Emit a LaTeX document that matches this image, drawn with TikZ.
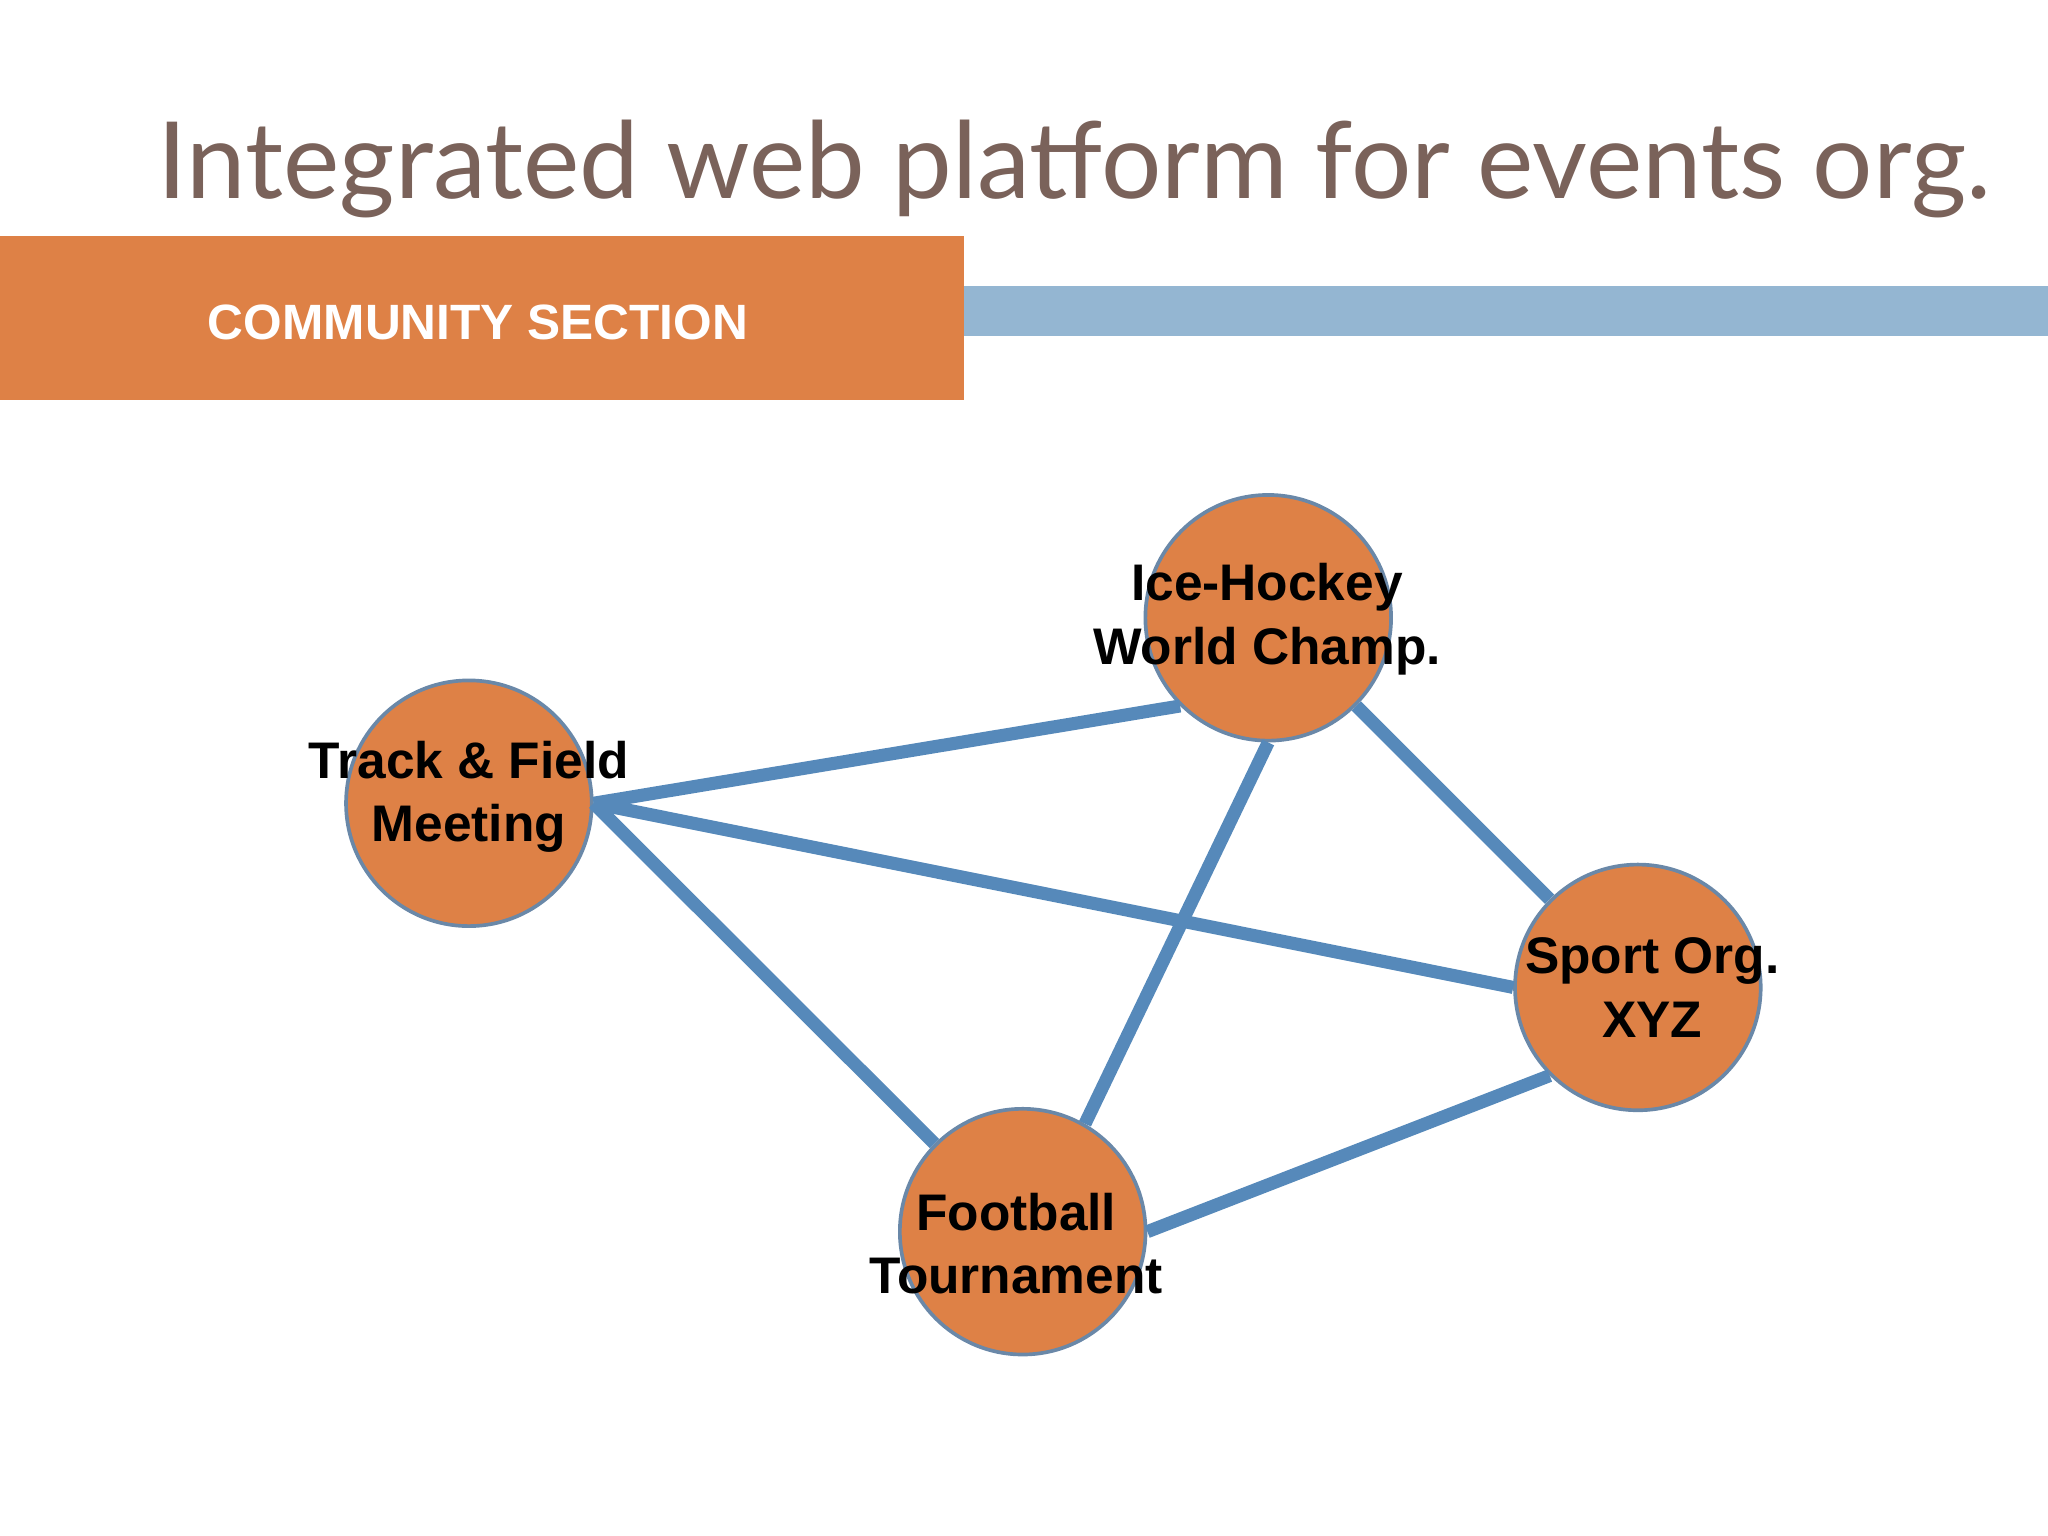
\documentclass[tikz,border=0pt]{standalone}
\usepackage{fontspec}
\setmainfont{Liberation Sans}
\newfontfamily\titlefont{Lato}
\definecolor{orng}{HTML}{DE8146}
\definecolor{barblue}{HTML}{94B6D2}
\definecolor{edgeblue}{HTML}{5689BA}
\definecolor{ringblue}{HTML}{6A88A8}
\definecolor{titlebrown}{HTML}{7A625A}
\tikzset{
  event/.style={circle, fill=orng, draw=ringblue, line width=0.8pt, minimum size=1.88cm, inner sep=0pt},
  evtext/.style={align=center, font=\bfseries\fontsize{11.2}{13.8}\selectfont},
  link/.style={draw=edgeblue, line width=0.1cm}
}
\begin{document}
\begin{tikzpicture}[x=0.01cm, y=-0.01cm]
\useasboundingbox (0,0) rectangle (1568,1176);

\node[anchor=base west, text=titlebrown, inner sep=0pt, font=\titlefont\fontsize{23.2}{28}\selectfont] (title) at (120,152) {Integrated web platform for events org.};
\fill[orng] (0,181) rectangle (738,306);
\fill[barblue] (738,219) rectangle (1568,257);
\node[text=white, font=\bfseries\fontsize{10.8}{13}\selectfont] (section) at (366,247) {COMMUNITY SECTION};

% events
\node[event] (track) at (359,615) {};
\node[event] (hockey) at (971,473) {};
\node[event] (sport) at (1254,756) {};
\node[event] (football) at (783,943) {};

% links
\draw[link] (track.east) -- (hockey.225);
\draw[link] (track.east) -- (sport.west);
\draw[link] (track.east) -- (football);
\draw[link] (hockey) -- (sport);
\draw[link] (hockey.south) -- (football.60);
\draw[link] (football.east) -- (sport.225);

\node[evtext] at (359,610) {Track \& Field\\Meeting};
\node[evtext] at (970,474) {Ice-Hockey\\World Champ.};
\node[evtext] at (1265,756) {Sport Org.\\XYZ};
\node[evtext] at (778,952) {Football\\Tournament};
\end{tikzpicture}
\end{document}
